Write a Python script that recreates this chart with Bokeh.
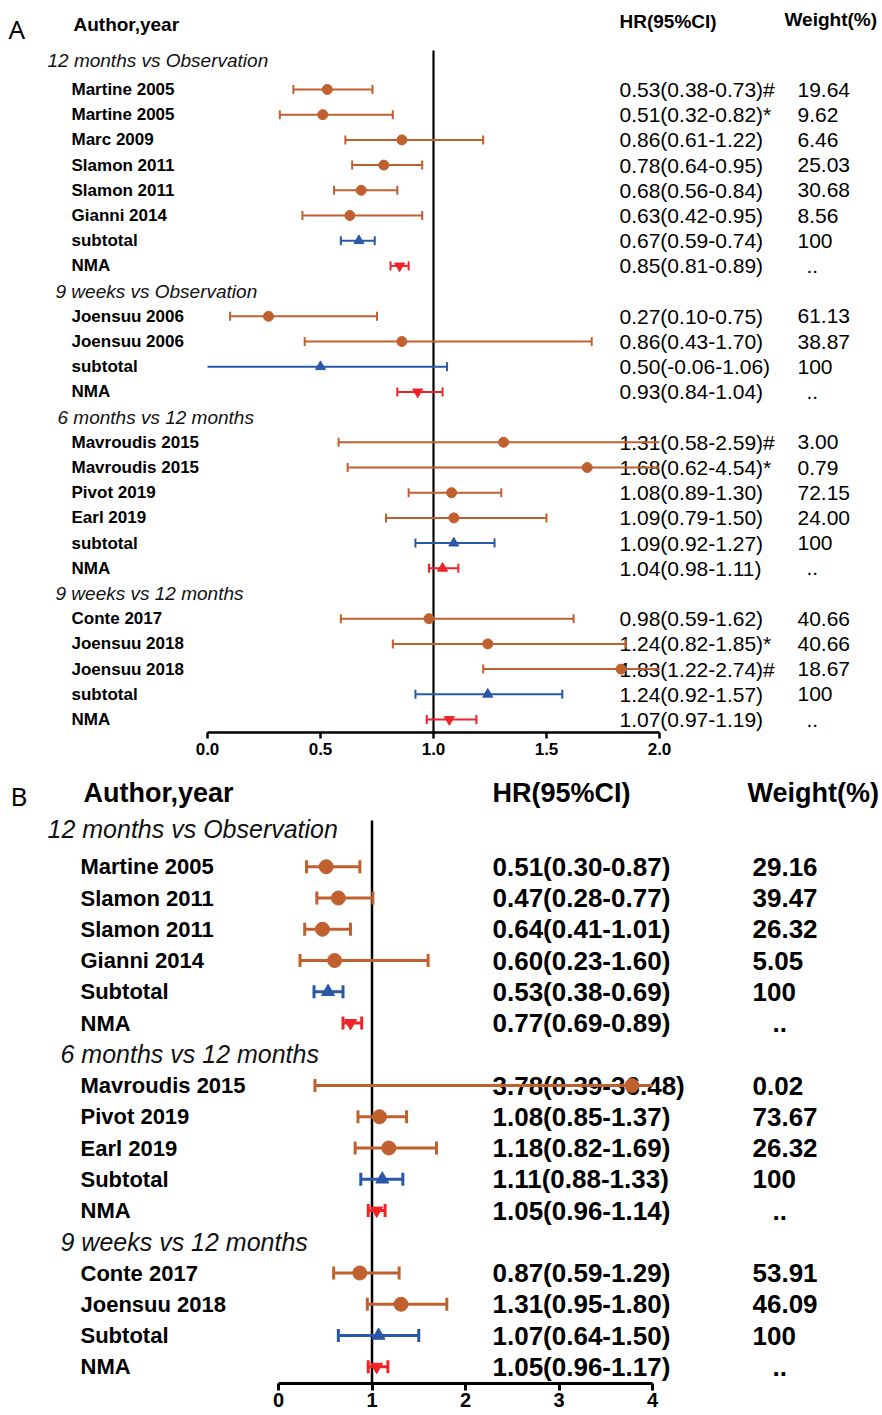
import numpy as np
from bokeh.plotting import figure
from bokeh.models import ColumnDataSource, Range1d, FixedTicker, NumeralTickFormatter
from bokeh.layouts import column
from bokeh.embed import file_html
from bokeh.resources import INLINE
from bokeh.core.properties import value

# ---------------- Panel A data ----------------
a_groups = ["12 months vs Observation", "9 weeks vs Observation",
            "6 months vs 12 months", "9 weeks vs 12 months"]
a_labels = [["Martine 2005", "Martine 2005", "Marc 2009", "Slamon 2011", "Slamon 2011", "Gianni 2014", "subtotal", "NMA"],
            ["Joensuu 2006", "Joensuu 2006", "subtotal", "NMA"],
            ["Mavroudis 2015", "Mavroudis 2015", "Pivot 2019", "Earl 2019", "subtotal", "NMA"],
            ["Conte 2017", "Joensuu 2018", "Joensuu 2018", "subtotal", "NMA"]]
a_est = [[0.53, 0.51, 0.86, 0.78, 0.68, 0.63, 0.67, 0.85],
         [0.27, 0.86, 0.50, 0.93],
         [1.31, 1.68, 1.08, 1.09, 1.09, 1.04],
         [0.98, 1.24, 1.83, 1.24, 1.07]]
a_lo = [[0.38, 0.32, 0.61, 0.64, 0.56, 0.42, 0.59, 0.81],
        [0.10, 0.43, -0.06, 0.84],
        [0.58, 0.62, 0.89, 0.79, 0.92, 0.98],
        [0.59, 0.82, 1.22, 0.92, 0.97]]
a_hi = [[0.73, 0.82, 1.22, 0.95, 0.84, 0.95, 0.74, 0.89],
        [0.75, 1.70, 1.06, 1.04],
        [2.59, 4.54, 1.30, 1.50, 1.27, 1.11],
        [1.62, 1.85, 2.74, 1.57, 1.19]]
a_hr = [["0.53(0.38-0.73)#", "0.51(0.32-0.82)*", "0.86(0.61-1.22)", "0.78(0.64-0.95)",
         "0.68(0.56-0.84)", "0.63(0.42-0.95)", "0.67(0.59-0.74)", "0.85(0.81-0.89)"],
        ["0.27(0.10-0.75)", "0.86(0.43-1.70)", "0.50(-0.06-1.06)", "0.93(0.84-1.04)"],
        ["1.31(0.58-2.59)#", "1.68(0.62-4.54)*", "1.08(0.89-1.30)", "1.09(0.79-1.50)",
         "1.09(0.92-1.27)", "1.04(0.98-1.11)"],
        ["0.98(0.59-1.62)", "1.24(0.82-1.85)*", "1.83(1.22-2.74)#", "1.24(0.92-1.57)", "1.07(0.97-1.19)"]]
a_weight = [["19.64", "9.62", "6.46", "25.03", "30.68", "8.56", "100", ".."],
            ["61.13", "38.87", "100", ".."],
            ["3.00", "0.79", "72.15", "24.00", "100", ".."],
            ["40.66", "40.66", "18.67", "100", ".."]]
a_nma_marker = ["inverted_triangle", "inverted_triangle", "triangle", "inverted_triangle"]
a_ticks = [0.0, 0.5, 1.0, 1.5, 2.0]

# ---------------- Panel B data ----------------
b_groups = ["12 months vs Observation", "6 months vs 12 months", "9 weeks vs 12 months"]
b_labels = [["Martine 2005", "Slamon 2011", "Slamon 2011", "Gianni 2014", "Subtotal", "NMA"],
            ["Mavroudis 2015", "Pivot 2019", "Earl 2019", "Subtotal", "NMA"],
            ["Conte 2017", "Joensuu 2018", "Subtotal", "NMA"]]
b_est = [[0.51, 0.64, 0.47, 0.60, 0.53, 0.77],
         [3.78, 1.08, 1.18, 1.11, 1.05],
         [0.87, 1.31, 1.07, 1.05]]
b_lo = [[0.30, 0.41, 0.28, 0.23, 0.38, 0.69],
        [0.39, 0.85, 0.82, 0.88, 0.96],
        [0.59, 0.95, 0.64, 0.96]]
b_hi = [[0.87, 1.01, 0.77, 1.60, 0.69, 0.89],
        [36.48, 1.37, 1.69, 1.33, 1.14],
        [1.29, 1.80, 1.50, 1.17]]
b_hr = [["0.51(0.30-0.87)", "0.47(0.28-0.77)", "0.64(0.41-1.01)", "0.60(0.23-1.60)",
         "0.53(0.38-0.69)", "0.77(0.69-0.89)"],
        ["3.78(0.39-36.48)", "1.08(0.85-1.37)", "1.18(0.82-1.69)", "1.11(0.88-1.33)", "1.05(0.96-1.14)"],
        ["0.87(0.59-1.29)", "1.31(0.95-1.80)", "1.07(0.64-1.50)", "1.05(0.96-1.17)"]]
b_weight = [["29.16", "39.47", "26.32", "5.05", "100", ".."],
            ["0.02", "73.67", "26.32", "100", ".."],
            ["53.91", "46.09", "100", ".."]]
b_nma_marker = ["inverted_triangle", "inverted_triangle", "inverted_triangle"]
b_ticks = [0, 1, 2, 3, 4]

BROWN = "#C1602F"
BLUE = "#2A58A8"
RED = "#EE2328"
FONT = "Liberation Sans"
ARIAL = value(FONT)


def build(cfg, groups, labels, est, lo, hi, hr, weight, nma_marker, ticks):
    W, H = cfg["W"], cfg["H"]
    x0, ppu = cfg["x0"], cfg["ppu"]
    row0, rh = cfg["row0"], cfg["rh"]
    fb = cfg["frame_bottom"]
    X = lambda fx: (fx - x0) / ppu
    Y = lambda fy: (fy - row0) / rh
    xmin, xmax = ticks[0], ticks[-1]

    p = figure(width=W, height=H, output_backend="svg", toolbar_location=None,
               x_range=Range1d(X(0), X(W)), y_range=Range1d(Y(fb), Y(0)),
               y_axis_location=None, min_border_left=0, min_border_right=0,
               min_border_top=0, min_border_bottom=H - fb)
    p.grid.visible = False
    p.outline_line_color = None
    p.background_fill_color = "white"
    p.border_fill_color = "white"

    ax = p.xaxis[0]
    ax.bounds = (xmin, xmax)
    ax.ticker = FixedTicker(ticks=ticks)
    ax.formatter = NumeralTickFormatter(format=cfg["fmt"])
    ax.axis_line_width = cfg["axw"]
    ax.major_tick_line_width = cfg["axw"]
    ax.major_tick_out = cfg["tick_out"]
    ax.major_tick_in = 0
    ax.minor_tick_out = 0
    ax.minor_tick_in = 0
    ax.major_label_standoff = cfg["standoff"]
    ax.major_label_text_font = FONT
    ax.major_label_text_font_style = "bold"
    ax.major_label_text_font_size = cfg["tick_fs"]
    ax.major_label_text_color = "black"

    # rows
    r = 0
    hy, hx, ht = [], [], []
    ys, labs, es, los, his, hrs, ws, roles, marks = [], [], [], [], [], [], [], [], []
    for g, grp in enumerate(groups):
        hy.append(r + cfg["hdr_nudge"][g] / rh)
        hx.append(X(cfg["hdr_x"][g]))
        ht.append(grp)
        r += 1
        for k, lab in enumerate(labels[g]):
            ys.append(r)
            labs.append(lab)
            es.append(est[g][k]); los.append(lo[g][k]); his.append(hi[g][k])
            hrs.append(hr[g][k]); ws.append(weight[g][k])
            if lab.lower() == "subtotal":
                roles.append("subtotal"); marks.append("triangle")
            elif lab == "NMA":
                roles.append("nma"); marks.append(nma_marker[g])
            else:
                roles.append("study"); marks.append("circle")
            r += 1
    ys = np.array(ys, float)
    es = np.array(es); los = np.array(los); his = np.array(his)
    cmap = {"study": BROWN, "subtotal": BLUE, "nma": RED}
    smap = cfg["msize"]
    cols = [cmap[x] for x in roles]
    sizes = [smap[x] for x in roles]

    # header texts
    for txt, fx, fy, fs, font, style in cfg["titles"]:
        p.text(x=[X(fx)], y=[Y(fy)], text=[txt], text_font=value(font), text_font_size=fs,
               text_font_style=style, text_baseline="middle", text_align="left", text_color="black")

    p.text(x=hx, y=hy, text=ht, text_font=ARIAL, text_font_size=cfg["grp_fs"],
           text_font_style="italic", text_baseline="middle", text_color="#111111")

    src = ColumnDataSource(dict(y=ys, lab=labs, hr=hrs, w=ws,
                                wdx=[cfg["dot_dx"] if w == ".." else 0 for w in ws]))
    p.text(x=X(cfg["lab_x"]), y="y", text="lab", source=src, text_font=ARIAL,
           text_font_size=cfg["lab_fs"], text_font_style="bold", text_baseline="middle")
    p.text(x=X(cfg["hr_x"]), y="y", text="hr", source=src, text_font=ARIAL,
           text_font_size=cfg["hr_fs"], text_font_style=cfg["num_style"], text_baseline="middle")
    p.text(x=X(cfg["w_x"]), y="y", text="w", x_offset="wdx", source=src, text_font=ARIAL,
           text_font_size=cfg["hr_fs"], text_font_style=cfg["num_style"], text_baseline="middle")

    # reference line at 1
    p.segment(x0=[1], y0=[Y(cfg["ref_top"])], x1=[1], y1=[Y(fb)], line_color="black",
              line_width=cfg["refw"])

    # error bars (clipped to axis range)
    cx0 = np.clip(los, xmin, xmax)
    cx1 = np.clip(his, xmin, xmax)
    bsrc = ColumnDataSource(dict(x0=cx0, x1=cx1, y=ys, c=cols))
    p.segment(x0="x0", y0="y", x1="x1", y1="y", line_color="c", line_width=cfg["lw"], source=bsrc)
    ch = cfg["cap"] / rh
    capx, capy, capc = [], [], []
    for i in range(len(ys)):
        if los[i] >= xmin:
            capx.append(los[i]); capy.append(ys[i]); capc.append(cols[i])
        if his[i] <= xmax:
            capx.append(his[i]); capy.append(ys[i]); capc.append(cols[i])
    capy = np.array(capy)
    p.segment(x0=capx, y0=capy - ch, x1=capx, y1=capy + ch, line_color=capc, line_width=cfg["lw"])

    msrc = ColumnDataSource(dict(x=es, y=ys, m=marks, c=cols, s=sizes))
    p.scatter(x="x", y="y", marker="m", size="s", fill_color="c", line_color="c", source=msrc)
    return p


cfgA = dict(W=882, H=778, x0=207, ppu=226.0, row0=63.8, rh=25.2, frame_bottom=732,
            fmt="0.0", axw=2.5, tick_out=6, standoff=4, tick_fs="17px",
            hdr_nudge=[-4, 0, 0, 0], hdr_x=[47, 55, 57, 55], grp_fs="19px",
            lab_x=71, lab_fs="17px", hr_x=619, w_x=797, hr_fs="21px", num_style="normal",
            dot_dx=9, ref_top=50, refw=2.2, lw=2, cap=4.5,
            msize={"study": 10, "subtotal": 10, "nma": 10},
            titles=[("A", 8, 28, "26px", "Noto Sans", "normal"),
                    ("Author,year", 73, 24, "19px", FONT, "bold"),
                    ("HR(95%CI)", 619, 21, "19px", FONT, "bold"),
                    ("Weight(%)", 784, 19, "19px", FONT, "bold")])

cfgB = dict(W=882, H=637, x0=278, ppu=93.5, row0=57, rh=31.25, frame_bottom=605,
            fmt="0", axw=3, tick_out=7, standoff=2, tick_fs="20px",
            hdr_nudge=[-7, 0, 0], hdr_x=[47, 60, 60], grp_fs="25px",
            lab_x=80, lab_fs="22px", hr_x=492, w_x=752, hr_fs="26px", num_style="bold",
            dot_dx=20, ref_top=42, refw=2.5, lw=3, cap=6.5,
            msize={"study": 14, "subtotal": 13, "nma": 12},
            titles=[("B", 10, 17, "26px", "Noto Sans", "normal"),
                    ("Author,year", 83, 14, "27px", FONT, "bold"),
                    ("HR(95%CI)", 492, 14, "27px", FONT, "bold"),
                    ("Weight(%)", 747, 14, "27px", FONT, "bold")])

pa = build(cfgA, a_groups, a_labels, a_est, a_lo, a_hi, a_hr, a_weight, a_nma_marker, a_ticks)
pb = build(cfgB, b_groups, b_labels, b_est, b_lo, b_hi, b_hr, b_weight, b_nma_marker, b_ticks)

layout = column(pa, pb, spacing=0)
open("out.html", "w").write(file_html(layout, INLINE))
